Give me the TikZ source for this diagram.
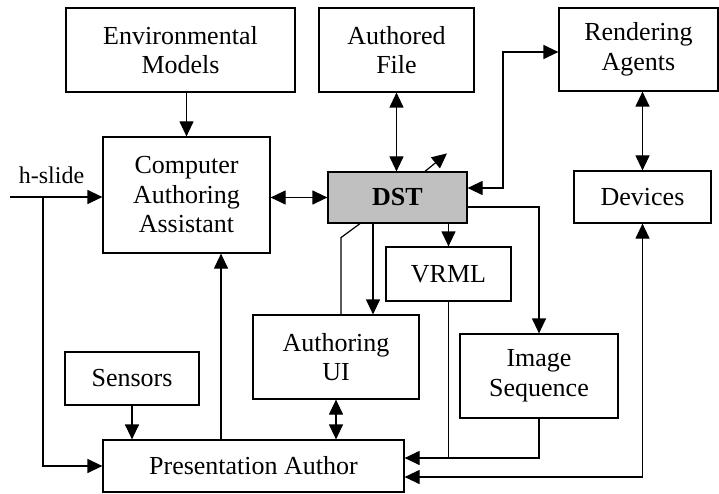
\documentclass[tikz,border=0pt]{standalone}
\usepackage{fontspec}
\setmainfont{Liberation Serif}
\usepackage{tikz}
\definecolor{dstgray}{HTML}{C0C0C0}
\usetikzlibrary{arrows.meta, positioning, calc}
\tikzset{bigtri/.tip={Triangle[length=15pt, width=14pt]}}

\begin{document}
\begin{tikzpicture}[x=1pt, y=-1pt, line width=1.2pt, >=bigtri,
    block/.style={draw, rectangle, inner sep=0pt, align=center, font=\fontsize{26}{29.5}\selectfont}]
    \useasboundingbox (0,0) rectangle (719,494);

    % Top row
    \node[block, minimum width=229pt, minimum height=84pt] (env) at (180.5,50) {Environmental\\Models};
    \node[block, minimum width=155pt, minimum height=84pt] (authf) at (396.5,50) {Authored\\File};
    \node[block, minimum width=159pt, minimum height=83pt] (rend) at (638.5,49.5) {Rendering\\Agents};

    % Middle row
    \node[block, minimum width=167pt, minimum height=116pt] (caa) at (186.5,195) {Computer\\Authoring\\Assistant};
    \node[block, fill=dstgray, minimum width=139pt, minimum height=51pt] (dst) at (397.5,197.5) {\textbf{DST}};
    \node[block, minimum width=137pt, minimum height=52pt] (dev) at (642.5,197) {Devices};

    % Outputs of DST
    \node[block, minimum width=125pt, minimum height=54pt] (vrml) at (448.5,274) {VRML};
    \node[block, minimum width=166pt, minimum height=84pt] (aui) at (336,357) {Authoring\\UI};
    \node[block, minimum width=158pt, minimum height=84pt] (img) at (539,376) {Image\\Sequence};

    % Bottom row
    \node[block, minimum width=134pt, minimum height=53pt] (sens) at (132,378.5) {Sensors};
    \node[block, minimum width=301pt, minimum height=52pt] (pa) at (253.5,466) {Presentation Author};

    % h-slide input
    \coordinate (hs) at (10,197);
    \coordinate (hb) at (43,197);
    \draw[->] (hs) -- node[above=13pt, pos=0.45, inner sep=0pt, font=\fontsize{24}{28}\selectfont] (hslide) {h-slide} (hs -| caa.west);
    \draw[->] (hb) |- (pa.west);

    % Connections around DST
    \draw[->] (env.south -| caa.north) -- (caa.north);
    \draw[<->] (caa.east |- dst) -- (dst.west);
    \draw[<->] (authf.south) -- (authf.south |- dst.north);
    \draw[->] ([xshift=27.5pt]dst.north) -- ++(22,-18);
    \coordinate (rj) at (503,52);
    \draw[<->] ([yshift=9.5pt]dst.east) -| (rj) -- (rj -| rend.west);
    \draw[<->] (rend.south -| dev.north) -- (dev.north);
    \draw[->] ([yshift=-9.5pt]dst.east) -| (img.north);
    \draw[->] (dst.south -| vrml.north) -- (vrml.north);
    \draw[->] ([xshift=-24.5pt]dst.south) -- ([xshift=-24.5pt]dst.south |- aui.north);
    \draw ([xshift=-37.5pt]dst.south) -- ++(-19,14) coordinate (kink) -- (kink |- aui.north);

    % Into Presentation Author
    \draw[->] ([xshift=34.5pt]caa.south |- pa.north) -- ([xshift=34.5pt]caa.south);
    \draw[->] (sens.south) -- (sens.south |- pa.north);
    \draw[<->] (aui.south) -- (aui.south |- pa.north);
    \draw[->] (vrml.south) |- ([yshift=8pt]pa.east);
    \draw (img.south) |- ([yshift=8pt]pa.east -| vrml.south);
    \draw[<->] ([yshift=-11pt]pa.east) -| (dev.south);
\end{tikzpicture}
\end{document}
